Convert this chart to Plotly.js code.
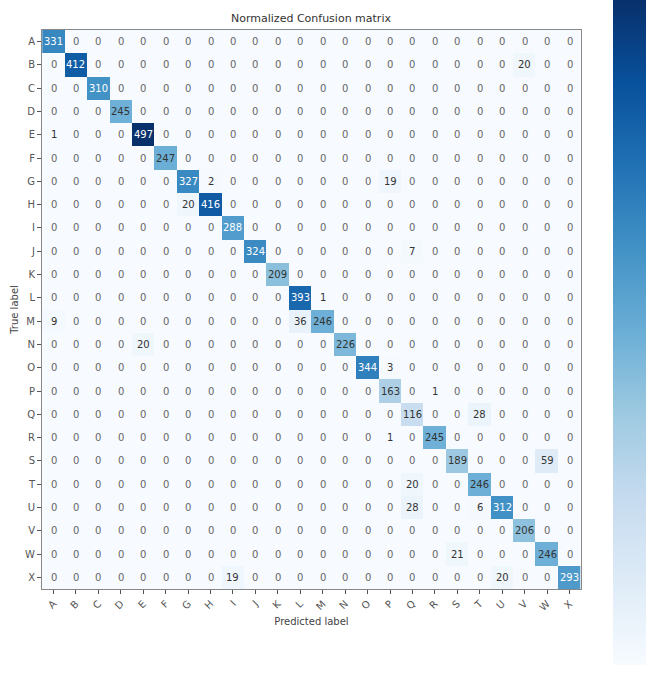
<!DOCTYPE html>
<html>
<head>
<meta charset="utf-8">
<script src="https://cdn.plot.ly/plotly-3.0.1.min.js"></script>
<style>html,body{margin:0;padding:0;background:#fff;}#chart{width:659px;height:675px;}</style>
</head>
<body>
<div id="chart"></div>
<script>
const labels = ["A","B","C","D","E","F","G","H","I","J","K","L","M","N","O","P","Q","R","S","T","U","V","W","X"];

// Off-diagonal (non-zero) entries: [trueLabel, predictedLabel, count]
const diagonal = [331,412,310,245,497,247,327,416,288,324,209,393,246,226,344,163,116,245,189,246,312,206,246,293];
const offDiagonal = [
  ["B","V",20],
  ["E","A",1],
  ["G","H",2],
  ["G","P",19],
  ["H","G",20],
  ["J","Q",7],
  ["L","M",1],
  ["M","A",9],
  ["M","L",36],
  ["N","E",20],
  ["O","P",3],
  ["P","R",1],
  ["Q","T",28],
  ["R","P",1],
  ["S","W",59],
  ["T","Q",20],
  ["U","Q",28],
  ["U","T",6],
  ["W","S",21],
  ["X","I",19],
  ["X","U",20]
];

const n = labels.length;
const z = labels.map(() => labels.map(() => 0));
diagonal.forEach((v, i) => { z[i][i] = v; });
offDiagonal.forEach(([t, p, v]) => { z[labels.indexOf(t)][labels.indexOf(p)] = v; });

const zmax = Math.max(...z.flat());
const thresh = zmax / 2;

const blues = [
  [0, "#f7fbff"], [0.125, "#deebf7"], [0.25, "#c6dbef"], [0.375, "#9ecae1"],
  [0.5, "#6baed6"], [0.625, "#4292c6"], [0.75, "#2171b5"], [0.875, "#08519c"], [1, "#08306b"]
];

const annotations = [];
for (let i = 0; i < n; i++) {
  for (let j = 0; j < n; j++) {
    const v = z[i][j];
    annotations.push({
      x: labels[j], y: labels[i], xref: "x", yref: "y",
      text: String(v), showarrow: false,
      font: { family: "DejaVu Sans", size: 10, color: v > thresh ? "#ffffff" : (v === 0 ? "#666666" : "#333333") }
    });
  }
}

const trace = {
  type: "heatmap",
  x: labels, y: labels, z: z,
  colorscale: blues, zmin: 0, zmax: zmax,
  xgap: 0, ygap: 0,
  hoverinfo: "skip",
  colorbar: {
    xref: "container", yref: "container",
    x: 613/659, xanchor: "left",
    y: 1, yanchor: "top",
    lenmode: "pixels", len: 665,
    thickness: 33, thicknessmode: "pixels",
    outlinewidth: 0,
    showticklabels: false, ticks: "",
    xpad: 0, ypad: 0
  }
};

const layout = {
  width: 659, height: 675,
  paper_bgcolor: "#ffffff", plot_bgcolor: "#ffffff",
  margin: { l: 42, r: 78, t: 30, b: 86, pad: 0 },
  font: { family: "DejaVu Sans", color: "#333333", size: 10 },
  title: { text: "Normalized Confusion matrix", x: 311/659, xanchor: "center", y: 1 - 18/675, yanchor: "middle",
           font: { family: "DejaVu Sans", size: 11, color: "#333333" } },
  xaxis: {
    type: "category", side: "bottom",
    tickangle: -45, ticks: "outside", ticklen: 4, tickcolor: "#555",
    tickfont: { family: "DejaVu Sans", size: 10, color: "#555555" },
    showline: true, linecolor: "#888888", linewidth: 1, mirror: true,
    showgrid: false, zeroline: false,
    title: { text: "Predicted label", font: { family: "DejaVu Sans", size: 10, color: "#444444" }, standoff: 6 }
  },
  yaxis: {
    type: "category", autorange: "reversed",
    ticks: "outside", ticklen: 4, tickcolor: "#555",
    tickfont: { family: "DejaVu Sans", size: 10, color: "#555555" },
    showline: true, linecolor: "#888888", linewidth: 1, mirror: true,
    showgrid: false, zeroline: false,
    title: { text: "True label", font: { family: "DejaVu Sans", size: 10, color: "#444444" }, standoff: 4 }
  },
  annotations: annotations
};

Plotly.newPlot("chart", [trace], layout, { displayModeBar: false, staticPlot: true });
</script>
</body>
</html>
